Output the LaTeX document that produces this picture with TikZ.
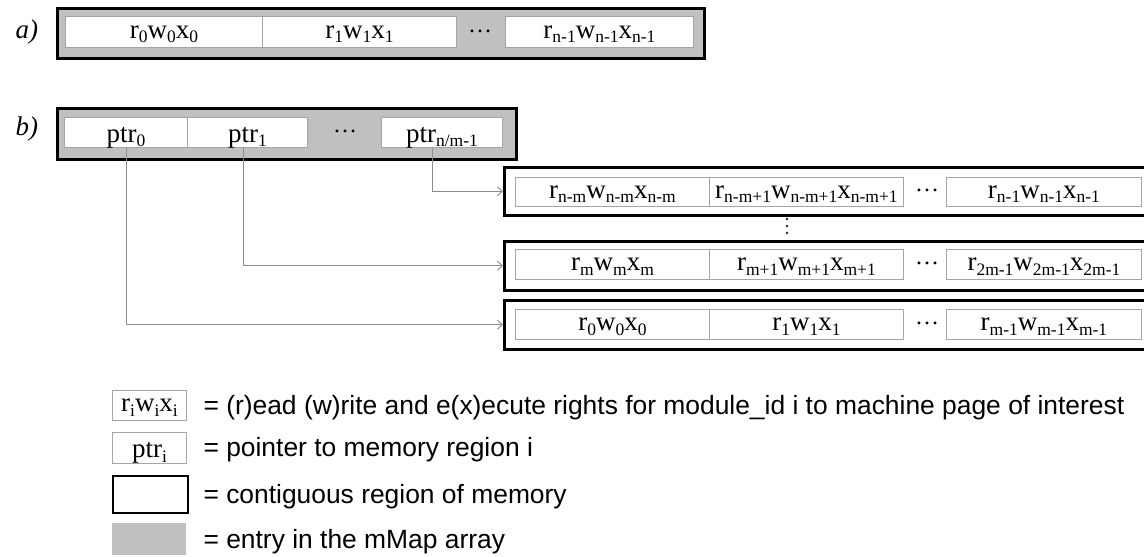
\documentclass[tikz,border=0pt]{standalone}
\usepackage{fontspec}
\setmainfont{Liberation Serif}
\newfontfamily\legendfont{Liberation Sans}
\usetikzlibrary{arrows.meta,calc}

\definecolor{mapgray}{RGB}{192,192,192}
\definecolor{cellline}{RGB}{165,165,165}
\definecolor{linkgray}{RGB}{140,140,140}

% lowered subscript in the cell font
\newcommand\sbs[1]{\raisebox{-4.5pt}{\fontsize{17.5}{17.5}\selectfont #1}}
\newcommand\rwx[1]{r\sbs{#1}w\sbs{#1}x\sbs{#1}}
% ellipsis between cells
\newcommand\middots{{\fontsize{24}{24}\selectfont\char"2026}}

\begin{document}
\begin{tikzpicture}[x=1pt,y=-1pt,
  region/.style={draw=black, line width=2.5pt, inner sep=0pt, anchor=north west},
  mmap/.style={region, fill=mapgray},
  cell/.style={draw=cellline, fill=white, line width=0.9pt, inner sep=0pt,
    anchor=north west, font=\fontsize{27}{30}\selectfont,
    text height=18pt, text depth=5pt},
  ptrcell/.style={cell, text height=20pt, text depth=0pt},
  gap/.style={inner sep=0pt, anchor=base},
  vdot/.style={circle, fill=black!85, inner sep=0pt, minimum size=2.8pt},
  link/.style={draw=linkgray, line width=0.9pt, -{Straight Barb[length=5pt,width=9pt]}},
  tag/.style={anchor=base west, font=\fontsize{27}{30}\selectfont\itshape},
  legtext/.style={anchor=base west, font=\legendfont\fontsize{26.4}{30}\selectfont}]
\clip (0,0) rectangle (1144,557);
\fill[white] (0,0) rectangle (1144,557);

% ---- a) flat array of rights
\node[tag] (la) at (12,38) {a)};
\node[mmap, minimum width=647pt, minimum height=50pt] (arow) at (56,7) {};
\node[cell, minimum width=197pt, minimum height=31pt] (a0) at (65,16) {\rwx{0}};
\node[cell, minimum width=194pt, minimum height=31pt] (a1) at (262,16) {\rwx{1}};
\node[gap] (adots) at (480,32) {\middots};
\node[cell, minimum width=188pt, minimum height=31pt] (a2) at (505,16) {\rwx{n-1}};

% ---- b) pointer table
\node[tag] (lb) at (12,135) {b)};
\node[mmap, minimum width=459pt, minimum height=51pt] (prow) at (56,107) {};
\node[ptrcell, minimum width=123pt, minimum height=30pt] (p0) at (64,117) {ptr\sbs{0}};
\node[ptrcell, minimum width=120pt, minimum height=30pt] (p1) at (187,117) {ptr\sbs{1}};
\node[gap] (pdots) at (345,132) {\middots};
\node[ptrcell, minimum width=121pt, minimum height=30pt] (p3) at (381,117) {ptr\sbs{n/m-1}};

% ---- memory regions
\node[region, minimum width=643pt, minimum height=48pt] (m1) at (503,166) {};
\node[cell, minimum width=194pt, minimum height=29pt] (m1a) at (515,177) {\rwx{n-m}};
\node[cell, minimum width=194pt, minimum height=29pt] (m1b) at (709,177) {\rwx{n-m+1}};
\node[gap] (m1dots) at (927,191) {\middots};
\node[cell, minimum width=195pt, minimum height=29pt] (m1c) at (946,177) {\rwx{n-1}};

% vertical ellipsis between the regions
\node[vdot] (vd1) at (787,219) {};
\node[vdot] (vd2) at (787,226) {};
\node[vdot] (vd3) at (787,233) {};

\node[region, minimum width=643pt, minimum height=49pt] (m2) at (503,240) {};
\node[cell, minimum width=194pt, minimum height=30pt] (m2a) at (515,249) {\rwx{m}};
\node[cell, minimum width=194pt, minimum height=30pt] (m2b) at (709,249) {\rwx{m+1}};
\node[gap] (m2dots) at (927,264) {\middots};
\node[cell, minimum width=195pt, minimum height=30pt] (m2c) at (946,249) {\rwx{2m-1}};

\node[region, minimum width=643pt, minimum height=49pt] (m3) at (503,299) {};
\node[cell, minimum width=194pt, minimum height=30pt] (m3a) at (515,309) {\rwx{0}};
\node[cell, minimum width=194pt, minimum height=30pt] (m3b) at (709,309) {\rwx{1}};
\node[gap] (m3dots) at (927,324) {\middots};
\node[cell, minimum width=195pt, minimum height=30pt] (m3c) at (946,309) {\rwx{m-1}};

% ---- pointers into the regions
\draw[link] (p0.south) |- (m3.west);
\draw[link] ($(p1.south)+(-4,0)$) |- (m2.west);
\draw[link] ($(p3.south)+(-10,0)$) |- (m1.west);

% ---- legend
\node[cell, minimum width=74pt, minimum height=30pt] (kcell) at (112,390) {\rwx{i}};
\node[ptrcell, minimum width=74pt, minimum height=31pt] (kptr) at (112,432) {ptr\sbs{i}};
\node[region, line width=2pt, minimum width=75pt, minimum height=37pt] (kreg) at (112,475) {};
\node[anchor=north west, fill=mapgray, inner sep=0pt, minimum width=74pt, minimum height=32pt] (kmap) at (112,523) {};

\node[legtext] (tcell) at (200,414) {= (r)ead (w)rite and e(x)ecute rights for module\_id i to machine page of interest};
\node[legtext] (tptr) at (200,456) {= pointer to memory region i};
\node[legtext] (treg) at (200,503) {= contiguous region of memory};
\node[legtext] (tmap) at (200,548) {= entry in the mMap array};
\end{tikzpicture}
\end{document}
